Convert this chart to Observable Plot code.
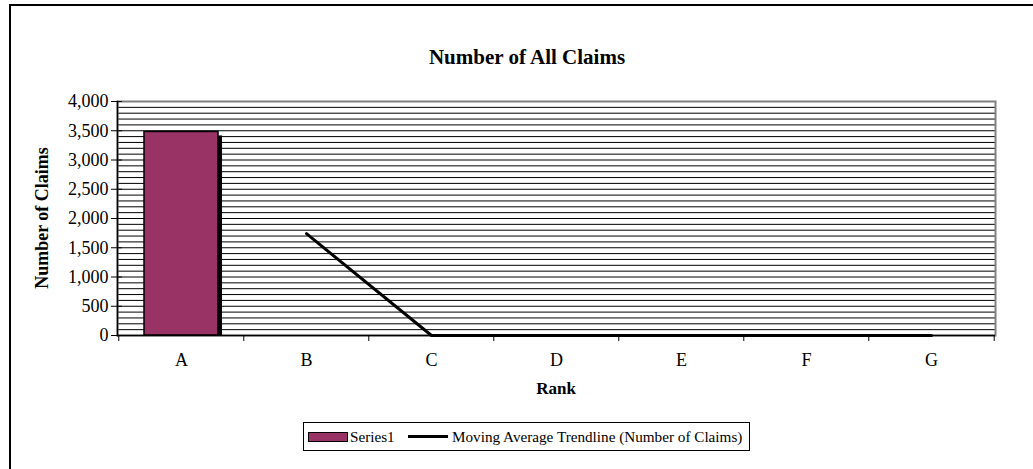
<!DOCTYPE html>
<html>
<head>
<meta charset="utf-8">
<script src="https://cdn.jsdelivr.net/npm/d3@7"></script>
<script src="https://cdn.jsdelivr.net/npm/@observablehq/plot@0.6"></script>
<style>
  html, body { margin: 0; padding: 0; background: #fff; overflow: hidden; }
  #wrap { position: relative; width: 1033px; height: 469px; font-family: "Liberation Serif", "Times New Roman", serif; color: #000; }
  #outer { position: absolute; left: 9px; top: 4px; width: 1200px; height: 700px; border-left: 2px solid #000; border-top: 2px solid #000; box-sizing: border-box; }
  #chart { position: absolute; left: 0; top: 0; }
  #chart svg { font-family: "Liberation Serif", "Times New Roman", serif !important; }
  #chart svg text { font-family: "Liberation Serif", "Times New Roman", serif !important; font-size: 18px !important; fill: #000; }
  .title { position: absolute; left: 327px; width: 400px; top: 45px; text-align: center; font-weight: bold; font-size: 21px; line-height: 24px; }
  .ylab { position: absolute; left: 42px; top: 218px; transform: translate(-50%, -50%) rotate(-90deg); font-weight: bold; font-size: 18px; line-height: 20px; white-space: nowrap; }
  .xlab { position: absolute; left: 456px; width: 200px; top: 379px; text-align: center; font-weight: bold; font-size: 17px; line-height: 20px; }
  #legend { position: absolute; left: 303px; top: 422px; width: 447px; height: 29px; border: 1px solid #000; box-sizing: border-box; font-size: 15.2px; }
  #legend .sw1 { position: absolute; left: 4px; top: 9px; width: 40px; height: 10px; background: #993366; border: 1.5px solid #000; box-sizing: border-box; }
  #legend .t1 { position: absolute; left: 46px; top: 4px; line-height: 19px; }
  #legend .sw2 { position: absolute; left: 104px; top: 12px; width: 40px; height: 3px; background: #000; }
  #legend .t2 { position: absolute; left: 148px; top: 4px; line-height: 19px; white-space: nowrap; }
</style>
</head>
<body>
<div id="wrap">
  <div id="outer"></div>
  <div id="chart"></div>
  <div class="title">Number of All Claims</div>
  <div class="ylab">Number of Claims</div>
  <div class="xlab">Rank</div>
  <div id="legend">
    <div class="sw1"></div><div class="t1">Series1</div>
    <div class="sw2"></div><div class="t2">Moving Average Trendline (Number of Claims)</div>
  </div>
</div>
<script>
// Data
const ranks = ["A", "B", "C", "D", "E", "F", "G"];
const claims = [3480, 0, 0, 0, 0, 0, 0];
const yTicks = [0, 500, 1000, 1500, 2000, 2500, 3000, 3500, 4000];
const gridValues = d3.range(0, 4001, 100);

const data = ranks.map((r, i) => ({rank: r, claims: claims[i]}));
// 2-period moving average trendline
const ma = [];
for (let i = 1; i < claims.length; i++) ma.push({rank: ranks[i], value: (claims[i] + claims[i - 1]) / 2});
const bars = data.filter(d => d.claims > 0);

const W = 1033, H = 469, mL = 117, mR = 38, mT = 101, mB = 134;
const step = (W - mL - mR) / ranks.length;

const chart = Plot.plot({
  width: W, height: H,
  marginLeft: mL, marginRight: mR, marginTop: mT, marginBottom: mB,
  style: {background: "transparent", color: "#000", overflow: "visible"},
  x: {domain: ranks, paddingInner: 0.41, paddingOuter: 0.205, label: null},
  y: {domain: [0, 4000], label: null},
  marks: [
    Plot.ruleY(gridValues, {stroke: "#000", strokeWidth: 1}),
    Plot.frame({stroke: "#808080", strokeWidth: 2}),
    Plot.frame({anchor: "left", stroke: "#000", strokeWidth: 1.5}),
    Plot.barY(bars, {x: "rank", y: "claims", dx: 4, insetTop: 4, fill: "#000"}),
    Plot.barY(bars, {x: "rank", y: "claims", fill: "#993366", stroke: "#000", strokeWidth: 1.5}),
    Plot.line(ma, {x: "rank", y: "value", stroke: "#000", strokeWidth: 3}),
    Plot.ruleY([0], {stroke: "#000", strokeWidth: 1.5}),
    Plot.axisY({ticks: yTicks, tickFormat: d3.format(","), tickSize: 6, tickPadding: 3}),
    Plot.axisY({ticks: yTicks, tickSize: -5, tickFormat: () => ""}),
    Plot.axisX({ticks: ranks, tickSize: 0, tickPadding: 18}),
    Plot.axisX({ticks: ranks, tickSize: 6, tickFormat: () => "", dx: -step / 2}),
    Plot.axisX({ticks: ["G"], tickSize: 6, tickFormat: () => "", dx: step / 2})
  ]
});
document.getElementById("chart").appendChild(chart);
</script>
</body>
</html>
